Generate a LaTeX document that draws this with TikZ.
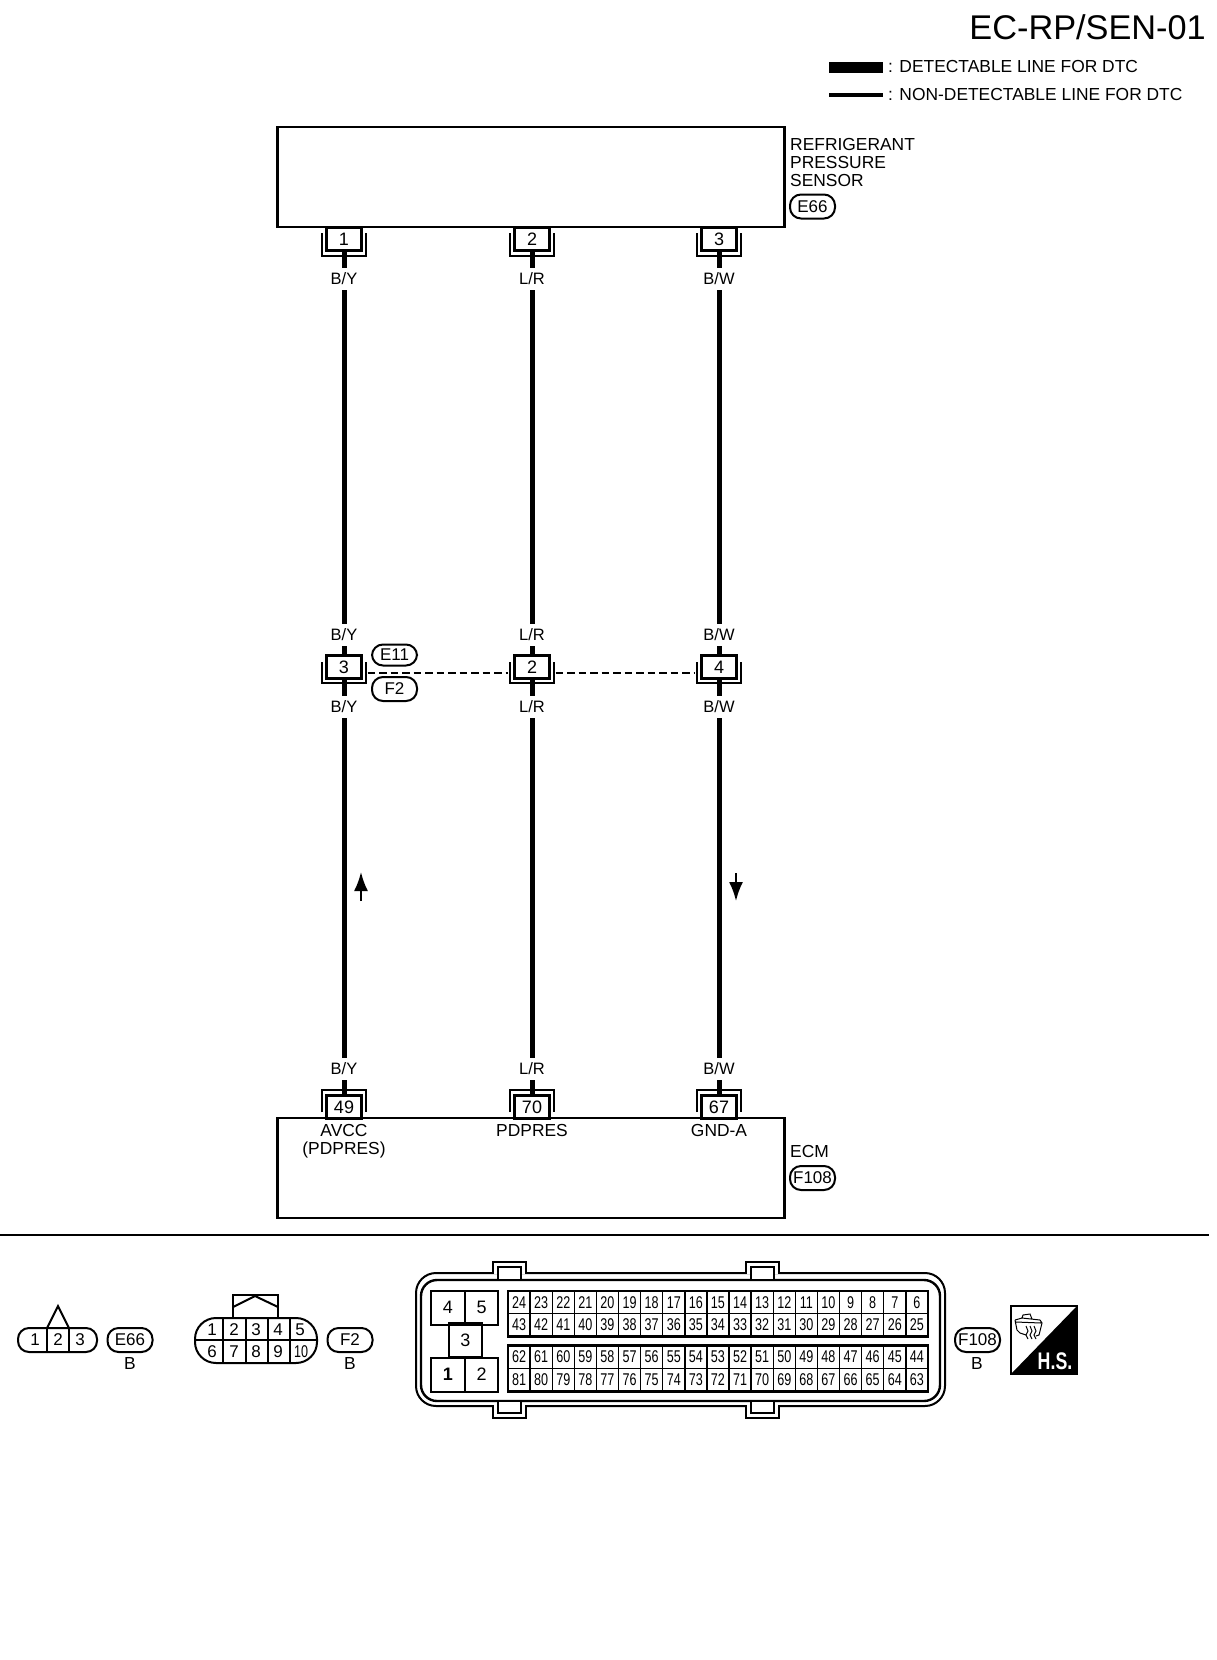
\documentclass[tikz,border=0pt]{standalone}
\usepackage{fontspec}
\usepackage{tikz}
\usetikzlibrary{arrows.meta}
\setmainfont{Liberation Sans}
\newfontfamily\narrowfont[FakeStretch=0.74]{Liberation Sans}
\tikzset{
  txt/.style={inner sep=0pt, font=\fontsize{17.4}{18}\selectfont},
  wirelabel/.style={txt, minimum height=22pt, font=\fontsize{16.5}{18}\selectfont},
  wire/.style={line width=5pt},
  unitbox/.style={draw, line width=2.3pt, minimum width=507pt, minimum height=100pt, inner sep=0pt},
  pinbox/.style={draw, fill=white, line width=2.4pt, minimum width=35pt, minimum height=23pt, inner sep=0pt,
                 font=\fontsize{18}{18}\selectfont},
  bracket/.style={line width=2pt},
  pill/.style={draw, fill=white, line width=2pt, rounded corners=11pt, minimum width=45pt, minimum height=24pt,
               inner sep=0pt, font=\fontsize{17}{18}\selectfont},
  gridcell/.style={draw, line width=1.4pt, minimum width=22.1pt, minimum height=22.7pt, inner sep=0pt,
                   font=\narrowfont\fontsize{17}{18}\selectfont},
  sidecell/.style={draw, line width=2pt, minimum width=33.5pt, minimum height=34pt, inner sep=0pt,
                   font=\fontsize{18}{18}\selectfont},
  iconnum/.style={inner sep=0pt, font=\fontsize{17}{18}\selectfont}
}
\begin{document}
\begin{tikzpicture}[x=1pt, y=-1pt]
  \useasboundingbox (0,0) rectangle (1216,1660);

  \node[inner sep=0pt, anchor=east, font=\fontsize{34.3}{36}\selectfont] (title) at (1206,27) {EC-RP/SEN-01};
  \coordinate (legA) at (829,67);
  \coordinate (legB) at (883,67);
  \coordinate (legC) at (829,95);
  \coordinate (legD) at (883,95);
  \draw[line width=11pt] (legA) -- (legB);
  \draw[line width=4.5pt] (legC) -- (legD);
  \node[txt, anchor=west] (legtextA) at (888,67) {: DETECTABLE LINE FOR DTC};
  \node[txt, anchor=west] (legtextB) at (888,95) {: NON-DETECTABLE LINE FOR DTC};

  \node[unitbox] (sensor) at (531,177) {};
  \node[unitbox] (ecm) at (531,1168) {};
  \node[txt, anchor=west] (sensortextA) at (790,145) {REFRIGERANT};
  \node[txt, anchor=west] (sensortextB) at (790,163) {PRESSURE};
  \node[txt, anchor=west] (sensortextC) at (790,181) {SENSOR};
  \node[pill] (sensortag) at (812.5,206.5) {E66};
  \node[txt, anchor=west] (ecmtext) at (790,1151) {ECM};
  \node[pill] (ecmtag) at (812.5,1178) {F108};

  \foreach \n/\x/\top/\mid/\bot/\col in {a/344/1/3/49/{B/Y},
                                         b/532/2/2/70/{L/R},
                                         c/719/3/4/67/{B/W}} {
    \draw[bracket] ({\x-22},233) -- ({\x-22},256) -- ({\x+22},256) -- ({\x+22},233);
    \draw[bracket] ({\x-22},662) -- ({\x-22},683) -- ({\x+22},683) -- ({\x+22},662);
    \draw[bracket] ({\x-22},1112) -- ({\x-22},1090) -- ({\x+22},1090) -- ({\x+22},1112);
    \node[pinbox] (s\n) at (\x,239) {\top};
    \node[pinbox] (j\n) at (\x,667) {\mid};
    \node[pinbox] (e\n) at (\x,1107) {\bot};
    \node[wirelabel] (sw\n) at (\x,279) {\col};
    \node[wirelabel] (ja\n) at (\x,635) {\col};
    \node[wirelabel] (jb\n) at (\x,707) {\col};
    \node[wirelabel] (ew\n) at (\x,1069) {\col};
    \draw[wire] (s\n.south) -- (sw\n.north);
    \draw[wire] (sw\n.south) -- (ja\n.north);
    \draw[wire] (ja\n.south) -- (j\n.north);
    \draw[wire] (j\n.south) -- (jb\n.north);
    \draw[wire] (jb\n.south) -- (ew\n.north);
    \draw[wire] (ew\n.south) -- (e\n.north);
  }
  \draw[line width=2pt, dash pattern=on 7.5pt off 4pt]
    ([shift={(5,6)}]ja.east) -- ([shift={(-5,6)}]jb.west)
    ([shift={(5,6)}]jb.east) -- ([shift={(-5,6)}]jc.west);
  \node[pill, minimum height=21pt] (jtagA) at (394.5,655) {E11};
  \node[pill] (jtagB) at (394.5,689) {F2};

  \coordinate (upS) at (361,901);
  \coordinate (upE) at (361,872);
  \coordinate (downS) at (736,873);
  \coordinate (downE) at (736,901);
  \draw[line width=2pt, -{Latex[length=19pt,width=14pt]}] (upS) -- (upE);
  \draw[line width=2pt, -{Latex[length=19pt,width=14pt]}] (downS) -- (downE);

  \node[txt, anchor=north] (ecmpinA) at (344,1124) {AVCC};
  \node[txt, anchor=north] (ecmpinB) at (344,1142) {(PDPRES)};
  \node[txt, anchor=north] (ecmpinC) at (532,1124) {PDPRES};
  \node[txt, anchor=north] (ecmpinD) at (719,1124) {GND-A};

  \coordinate (ruleL) at (0,1235);
  \coordinate (ruleR) at (1209,1235);
  \draw[line width=2pt] (ruleL) -- (ruleR);

  \draw[line width=2pt] (47,1328) -- (58,1306) -- (69,1328);
  \node[pill, minimum width=79pt] (threepin) at (57.5,1340) {};
  \draw[line width=2pt] (47,1328) -- (47,1352) (69,1328) -- (69,1352);
  \foreach \v/\x in {1/35,2/58,3/80}
    \node[iconnum] (tp\v) at (\x,1340) {\v};
  \node[pill] (tagE) at (130,1340) {E66};
  \node[txt] (typeE) at (130,1363) {B};

  \draw[line width=2pt] (233,1318) -- (233,1295) -- (278,1295) -- (278,1318);
  \draw[line width=2pt] (233,1307) -- (255,1296) -- (278,1307);
  \node[pill, minimum width=122pt, minimum height=45pt, rounded corners=21pt] (tenpin) at (256,1340.5) {};
  \draw[line width=2pt] (195,1340) -- (317,1340);
  \foreach \x in {223,246,268,290}
    \draw[line width=2pt] (\x,1318) -- (\x,1363);
  \foreach \v/\x in {1/212,2/234,3/256,4/278,5/300}
    \node[iconnum] (tpa\v) at (\x,1330) {\v};
  \foreach \v/\x in {6/212,7/234,8/256,9/278}
    \node[iconnum] (tpb\v) at (\x,1352) {\v};
  \node[iconnum, font=\narrowfont\fontsize{17}{18}\selectfont] (tpb10) at (301,1352) {10};
  \node[pill] (tagF) at (350,1340) {F2};
  \node[txt] (typeF) at (350,1363) {B};

  \draw[line width=2pt, rounded corners=20pt] (416,1273) rectangle (945,1406);
  \draw[line width=2.4pt, rounded corners=16pt] (421,1280) rectangle (940,1401);
  \foreach \x in {493,746} {
    \draw[line width=2pt, fill=white] (\x,1274) -- (\x,1262) -- ({\x+33},1262) -- ({\x+33},1274);
    \draw[line width=2pt, fill=white] ({\x+5},1280) rectangle ({\x+28},1267);
    \draw[line width=2pt, fill=white] (\x,1405) -- (\x,1418) -- ({\x+33},1418) -- ({\x+33},1405);
    \draw[line width=2pt, fill=white] ({\x+5},1401) rectangle ({\x+28},1413);
  }
  \node[sidecell] (side3) at (465.5,1340) {3};
  \node[sidecell] (side4) at (448,1307.5) {4};
  \node[sidecell] (side5) at (481.5,1307.5) {5};
  \node[sidecell, font=\bfseries\fontsize{18}{18}\selectfont] (side1) at (448,1374.5) {1};
  \node[sidecell] (side2) at (481.5,1374.5) {2};

  \foreach \c in {0,...,18} {
    \pgfmathsetmacro{\cx}{519.05+22.1*\c}
    \pgfmathtruncatemacro{\na}{24-\c}
    \pgfmathtruncatemacro{\nb}{43-\c}
    \pgfmathtruncatemacro{\nc}{62-\c}
    \pgfmathtruncatemacro{\nd}{81-\c}
    \node[gridcell] (g\na) at (\cx,1302.4) {\na};
    \node[gridcell] (g\nb) at (\cx,1325) {\nb};
    \node[gridcell] (g\nc) at (\cx,1357) {\nc};
    \node[gridcell] (g\nd) at (\cx,1379.7) {\nd};
  }
  \draw[line width=2.4pt] (508,1291) rectangle (928,1336.5);
  \draw[line width=2.4pt] (508,1345.5) rectangle (928,1391.5);
  \node[pill] (tagG) at (977.5,1340) {F108};
  \node[txt] (typeG) at (977,1363) {B};

  \fill (1077,1306) -- (1077,1374) -- (1011,1374) -- cycle;
  \draw[line width=2pt] (1011,1306) rectangle (1077,1374);
  \node[inner sep=0pt, text=white, font=\narrowfont\bfseries\fontsize{24}{26}\selectfont] (hs) at (1055,1361) {H.S.};
  \draw[line width=1pt]
    (1022,1318) -- (1023,1315) -- (1030,1314) -- (1032,1319)
    (1015,1320) -- (1022,1318) -- (1040,1320) -- (1042,1323) -- (1039,1335) -- (1036,1336)
    (1015,1320) -- (1017,1330) -- (1020,1333) -- (1026,1335)
    (1016,1322) -- (1041,1323)
    (1026,1326) -- (1028,1331) -- (1026,1335) -- (1028,1339)
    (1030,1326) -- (1032,1331) -- (1030,1335) -- (1032,1339)
    (1034,1326) -- (1036,1331) -- (1034,1335) -- (1036,1339);
\end{tikzpicture}
\end{document}
